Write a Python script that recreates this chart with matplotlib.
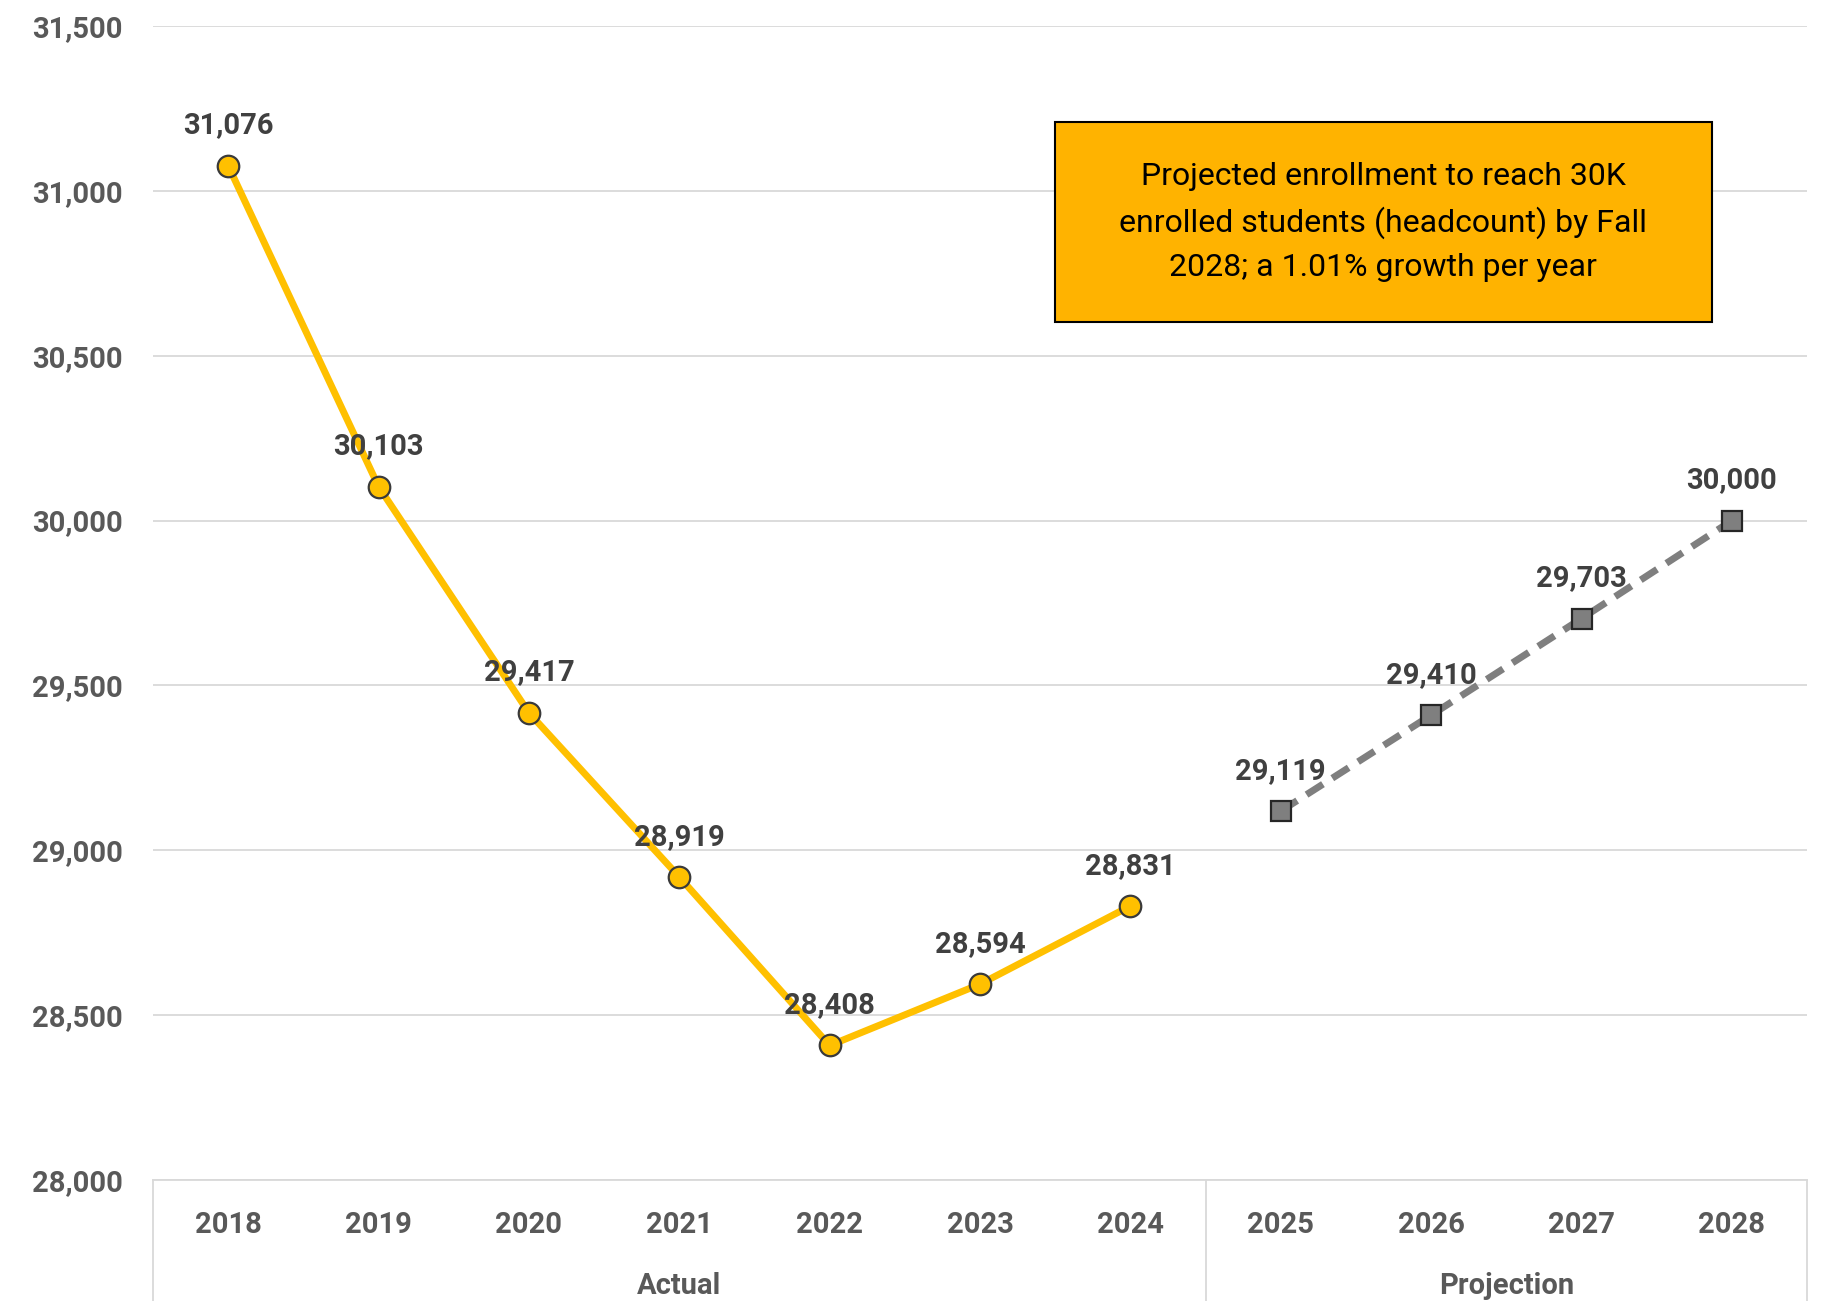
import matplotlib.pyplot as plt
from matplotlib.ticker import FuncFormatter

years = ["2018", "2019", "2020", "2021", "2022", "2023", "2024",
         "2025", "2026", "2027", "2028"]
actual = [31076, 30103, 29417, 28919, 28408, 28594, 28831]
projected = [29119, 29410, 29703, 30000]
groups = ["Actual", "Projection"]
note = ("Projected enrollment to reach 30K\n"
        "enrolled students (headcount) by Fall\n"
        "2028; a 1.01% growth per year")

label_font = ["Roboto", "DejaVu Sans"]
gold = "#FFC000"
gray = "#7F7F7F"
text_gray = "#595959"

fig = plt.figure(figsize=(18.22, 13.01), dpi=100)
ax = fig.add_axes([0.084, 0.093, 0.9078, 0.887])

x_act = list(range(len(actual)))
x_proj = list(range(len(actual), len(actual) + len(projected)))

ax.plot(x_act, actual, color=gold, lw=5, marker="o", ms=15.5,
        mfc=gold, mec="#3a3a3a", mew=1.6, zorder=3)
ax.plot(x_proj, projected, color=gray, lw=5, ls=(0, (2.8, 1.6)), marker="s",
        ms=15, mfc=gray, mec="#262626", mew=1.6, zorder=3)

for xs, ys in ((x_act, actual), (x_proj, projected)):
    for x, y in zip(xs, ys):
        ax.annotate(f"{y:,}", (x, y), xytext=(0, 29), textcoords="offset points",
                    ha="center", va="center", fontsize=21, fontweight="bold",
                    color="#404040", family=label_font, zorder=4)

ax.set_xlim(-0.5, 10.5)
ax.set_ylim(28000, 31500)
ax.set_yticks(range(28000, 31501, 500))
ax.yaxis.set_major_formatter(FuncFormatter(lambda v, p: f"{int(v):,}"))
ax.grid(axis="y", color="#D9D9D9", lw=1.3)
ax.set_axisbelow(True)
for s in ["top", "right", "left"]:
    ax.spines[s].set_visible(False)
ax.spines["bottom"].set_color("#D9D9D9")
ax.spines["bottom"].set_linewidth(1.3)
ax.tick_params(axis="y", length=0, pad=22, labelsize=21, labelcolor=text_gray)
ax.tick_params(axis="x", length=0, pad=22, labelsize=21, labelcolor=text_gray)
for lab in ax.get_yticklabels():
    lab.set_family(label_font)
    lab.set_fontweight("bold")

ax.set_xticks(range(len(years)))
ax.set_xticklabels(years, family=label_font, fontweight="bold")

# category group separators and labels below the axis
trans = ax.get_xaxis_transform()
for xv in (-0.5, 6.5, 10.5):
    ax.plot([xv, xv], [0, -0.11], transform=trans, color="#D9D9D9", lw=1.3,
            clip_on=False)
ax.text(3, -0.092, groups[0], transform=trans, ha="center", va="center",
        fontsize=21, fontweight="bold", color=text_gray, family=label_font)
ax.text(8.5, -0.092, groups[1], transform=trans, ha="center", va="center",
        fontsize=21, fontweight="bold", color=text_gray, family=label_font)

# note box
fig.patches.append(plt.Rectangle((1055 / 1822, 1 - 322 / 1301), 657 / 1822,
                                 200 / 1301, transform=fig.transFigure,
                                 facecolor="#FFB300", edgecolor="black", lw=1.5))
fig.text(1383 / 1822, 1 - 222 / 1301, note, ha="center", va="center",
         fontsize=23, family=["Roboto", "DejaVu Sans"], linespacing=1.6,
         color="black")

fig.savefig("out.png", dpi=100)
